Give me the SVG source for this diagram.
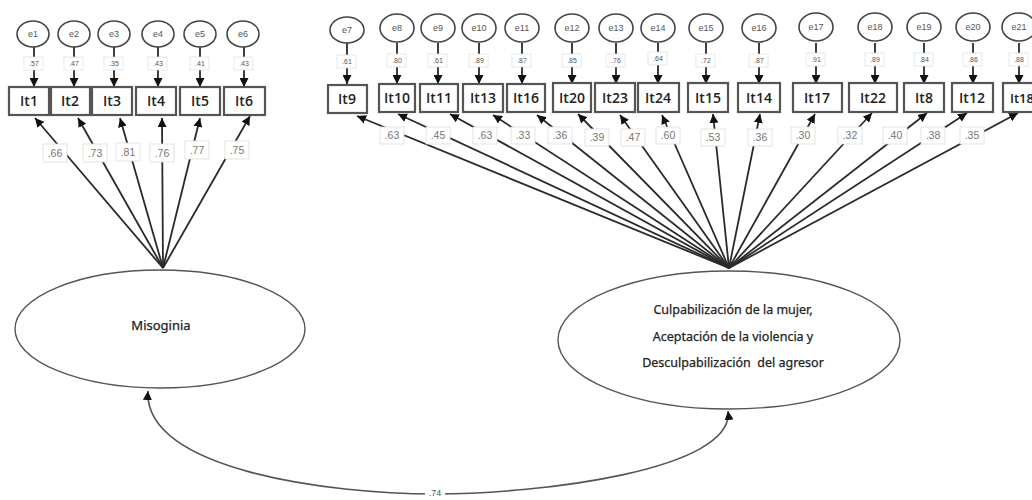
<svg xmlns="http://www.w3.org/2000/svg" width="1032" height="500" viewBox="0 0 1032 500">
  <defs>
    <marker id="arr" viewBox="0 0 10 10" refX="10" refY="5" markerWidth="9" markerHeight="9" markerUnits="userSpaceOnUse" orient="auto-start-reverse">
      <path d="M0,0 L10,5 L0,10 z" fill="#111"/>
    </marker>
    <style>
      .err { fill: #fff; stroke: #444; stroke-width: 1.6; }
      .err-t { font-family: "Liberation Sans", Arial, sans-serif; font-size: 9px; fill: #555; text-anchor: middle; }
      .item { fill: #fff; stroke: #555; stroke-width: 2.2; }
      .item-t { font-family: "Open Sans", "Noto Sans", sans-serif; font-size: 14px; font-weight: 600; fill: #222; text-anchor: middle; }
      .lat { fill: #fff; stroke: #555; stroke-width: 1.4; }
      .lat-t { font-family: "Noto Sans", "Open Sans", sans-serif; font-size: 12.5px; fill: #222; stroke: #222; stroke-width: 0.25; text-anchor: middle; }
      .ln { stroke: #2a2a2a; stroke-width: 1.8; fill: none; marker-end: url(#arr); }
      .arc { stroke: #555; stroke-width: 1.6; fill: none; marker-start: url(#arr); marker-end: url(#arr); }
      .lb { fill: #fff; stroke: #ddd; stroke-width: 0.8; }
      .lb-t { font-family: "Liberation Sans", Arial, sans-serif; font-size: 10.5px; fill: #777; text-anchor: middle; }
      .sl { fill: #fff; stroke: #ddd; stroke-width: 0.7; }
      .sl-t { font-family: "Liberation Sans", Arial, sans-serif; font-size: 7px; fill: #555; text-anchor: middle; }
    </style>
  </defs>

  <!-- paths: error terms, loadings, covariance -->
  <g id="connectors">
    <!-- error term arrows, left block -->
    <line class="ln" x1="34" y1="47" x2="34" y2="87"/>
    <line class="ln" x1="74" y1="47" x2="74" y2="87"/>
    <line class="ln" x1="114" y1="47" x2="114" y2="87"/>
    <line class="ln" x1="158" y1="47" x2="158" y2="87"/>
    <line class="ln" x1="200" y1="47" x2="200" y2="87"/>
    <line class="ln" x1="244" y1="47" x2="244" y2="87"/>
    <!-- error term arrows, right block -->
    <line class="ln" x1="347" y1="43" x2="347" y2="84"/>
    <line class="ln" x1="397" y1="43" x2="397" y2="84"/>
    <line class="ln" x1="438" y1="43" x2="438" y2="84"/>
    <line class="ln" x1="479" y1="43" x2="479" y2="84"/>
    <line class="ln" x1="522" y1="43" x2="522" y2="84"/>
    <line class="ln" x1="572" y1="43" x2="572" y2="84"/>
    <line class="ln" x1="616" y1="43" x2="616" y2="84"/>
    <line class="ln" x1="658" y1="43" x2="658" y2="84"/>
    <line class="ln" x1="706" y1="43" x2="706" y2="84"/>
    <line class="ln" x1="759" y1="43" x2="759" y2="84"/>
    <line class="ln" x1="816" y1="43" x2="816" y2="84"/>
    <line class="ln" x1="875" y1="43" x2="875" y2="84"/>
    <line class="ln" x1="924" y1="43" x2="924" y2="84"/>
    <line class="ln" x1="973" y1="43" x2="973" y2="84"/>
    <line class="ln" x1="1019" y1="43" x2="1019" y2="84"/>

    <!-- loadings from Misoginia -->
    <line class="ln" x1="163" y1="268" x2="35" y2="118"/>
    <line class="ln" x1="163" y1="268" x2="78" y2="118"/>
    <line class="ln" x1="163" y1="268" x2="120" y2="118"/>
    <line class="ln" x1="163" y1="268" x2="162" y2="118"/>
    <line class="ln" x1="163" y1="268" x2="200" y2="118"/>
    <line class="ln" x1="163" y1="268" x2="250" y2="116"/>

    <!-- loadings from the second factor -->
    <line class="ln" x1="729" y1="268" x2="357" y2="116"/>
    <line class="ln" x1="729" y1="268" x2="398" y2="114"/>
    <line class="ln" x1="729" y1="268" x2="450" y2="114"/>
    <line class="ln" x1="729" y1="268" x2="493" y2="115"/>
    <line class="ln" x1="729" y1="268" x2="537" y2="115"/>
    <line class="ln" x1="729" y1="268" x2="578" y2="114"/>
    <line class="ln" x1="729" y1="268" x2="620" y2="115"/>
    <line class="ln" x1="729" y1="268" x2="662" y2="115"/>
    <line class="ln" x1="729" y1="268" x2="713" y2="114"/>
    <line class="ln" x1="729" y1="268" x2="760" y2="114"/>
    <line class="ln" x1="729" y1="268" x2="815" y2="114"/>
    <line class="ln" x1="729" y1="268" x2="872" y2="113"/>
    <line class="ln" x1="729" y1="268" x2="927" y2="113"/>
    <line class="ln" x1="729" y1="268" x2="967" y2="113"/>
    <line class="ln" x1="729" y1="268" x2="1018" y2="113"/>

    <!-- factor covariance -->
    <path class="arc" d="M148,391 C143,470 330,494 435,494 C540,494 735,470 728,411"/>

    <!-- squared multiple correlations -->
    <g>
      <rect class="sl" x="24" y="57" width="19" height="13"/><text class="sl-t" x="34" y="66">.57</text>
      <rect class="sl" x="64" y="57" width="19" height="13"/><text class="sl-t" x="74" y="66">.47</text>
      <rect class="sl" x="104" y="57" width="19" height="13"/><text class="sl-t" x="114" y="66">.35</text>
      <rect class="sl" x="148" y="57" width="19" height="13"/><text class="sl-t" x="158" y="66">.43</text>
      <rect class="sl" x="190" y="57" width="19" height="13"/><text class="sl-t" x="200" y="66">.41</text>
      <rect class="sl" x="234" y="57" width="19" height="13"/><text class="sl-t" x="244" y="66">.43</text>

      <rect class="sl" x="337" y="55" width="19" height="13"/><text class="sl-t" x="347" y="64">.61</text>
      <rect class="sl" x="387" y="54" width="19" height="13"/><text class="sl-t" x="397" y="63">.80</text>
      <rect class="sl" x="428" y="54" width="19" height="13"/><text class="sl-t" x="438" y="63">.61</text>
      <rect class="sl" x="469" y="54" width="19" height="13"/><text class="sl-t" x="479" y="63">.89</text>
      <rect class="sl" x="512" y="54" width="19" height="13"/><text class="sl-t" x="522" y="63">.87</text>
      <rect class="sl" x="562" y="54" width="19" height="13"/><text class="sl-t" x="572" y="63">.85</text>
      <rect class="sl" x="606" y="54" width="19" height="13"/><text class="sl-t" x="616" y="63">.76</text>
      <rect class="sl" x="648" y="52" width="19" height="13"/><text class="sl-t" x="658" y="61">.64</text>
      <rect class="sl" x="696" y="54" width="19" height="13"/><text class="sl-t" x="706" y="63">.72</text>
      <rect class="sl" x="749" y="54" width="19" height="13"/><text class="sl-t" x="759" y="63">.87</text>
      <rect class="sl" x="806" y="53" width="19" height="13"/><text class="sl-t" x="816" y="62">.91</text>
      <rect class="sl" x="865" y="53" width="19" height="13"/><text class="sl-t" x="875" y="62">.89</text>
      <rect class="sl" x="914" y="53" width="19" height="13"/><text class="sl-t" x="924" y="62">.84</text>
      <rect class="sl" x="963" y="53" width="19" height="13"/><text class="sl-t" x="973" y="62">.86</text>
      <rect class="sl" x="1009" y="53" width="19" height="13"/><text class="sl-t" x="1019" y="62">.88</text>
    </g>

    <!-- standardized loadings -->
    <g>
      <rect class="lb" x="43" y="144" width="24" height="18"/><text class="lb-t" x="55" y="157">.66</text>
      <rect class="lb" x="83" y="144" width="24" height="18"/><text class="lb-t" x="95" y="157">.73</text>
      <rect class="lb" x="116" y="143" width="24" height="18"/><text class="lb-t" x="128" y="156">.81</text>
      <rect class="lb" x="150" y="144" width="24" height="18"/><text class="lb-t" x="162" y="157">.76</text>
      <rect class="lb" x="185" y="141" width="24" height="18"/><text class="lb-t" x="197" y="154">.77</text>
      <rect class="lb" x="225" y="141" width="24" height="18"/><text class="lb-t" x="237" y="154">.75</text>

      <rect class="lb" x="380" y="127" width="24" height="17"/><text class="lb-t" x="392" y="139">.63</text>
      <rect class="lb" x="426" y="127" width="24" height="17"/><text class="lb-t" x="438" y="139">.45</text>
      <rect class="lb" x="473" y="127" width="24" height="17"/><text class="lb-t" x="485" y="139">.63</text>
      <rect class="lb" x="511" y="127" width="24" height="17"/><text class="lb-t" x="523" y="139">.33</text>
      <rect class="lb" x="548" y="127" width="24" height="17"/><text class="lb-t" x="560" y="139">.36</text>
      <rect class="lb" x="585" y="129" width="24" height="17"/><text class="lb-t" x="597" y="141">.39</text>
      <rect class="lb" x="621" y="129" width="24" height="17"/><text class="lb-t" x="633" y="141">.47</text>
      <rect class="lb" x="656" y="127" width="24" height="17"/><text class="lb-t" x="668" y="139">.60</text>
      <rect class="lb" x="701" y="129" width="24" height="17"/><text class="lb-t" x="713" y="141">.53</text>
      <rect class="lb" x="748" y="129" width="24" height="17"/><text class="lb-t" x="760" y="141">.36</text>
      <rect class="lb" x="791" y="127" width="24" height="17"/><text class="lb-t" x="803" y="139">.30</text>
      <rect class="lb" x="838" y="127" width="24" height="17"/><text class="lb-t" x="850" y="139">.32</text>
      <rect class="lb" x="883" y="127" width="24" height="17"/><text class="lb-t" x="895" y="139">.40</text>
      <rect class="lb" x="921" y="127" width="24" height="17"/><text class="lb-t" x="933" y="139">.38</text>
      <rect class="lb" x="960" y="127" width="24" height="17"/><text class="lb-t" x="972" y="139">.35</text>
    </g>

    <rect x="425" y="486" width="20" height="12" fill="#fff"/>
    <text class="sl-t" x="435" y="496" style="font-size:9px">.74</text>
  </g>

  <!-- error terms -->
  <g id="e1"><ellipse class="err" cx="33" cy="34" rx="16" ry="13"/><text class="err-t" x="33" y="37">e1</text></g>
  <g id="e2"><ellipse class="err" cx="74" cy="34" rx="16" ry="13"/><text class="err-t" x="74" y="37">e2</text></g>
  <g id="e3"><ellipse class="err" cx="114" cy="34" rx="16" ry="13"/><text class="err-t" x="114" y="37">e3</text></g>
  <g id="e4"><ellipse class="err" cx="158" cy="34" rx="16" ry="13"/><text class="err-t" x="158" y="37">e4</text></g>
  <g id="e5"><ellipse class="err" cx="200" cy="34" rx="16" ry="13"/><text class="err-t" x="200" y="37">e5</text></g>
  <g id="e6"><ellipse class="err" cx="243" cy="34" rx="16" ry="13"/><text class="err-t" x="243" y="37">e6</text></g>

  <g id="e7"><ellipse class="err" cx="347" cy="30" rx="17" ry="13"/><text class="err-t" x="347" y="33">e7</text></g>
  <g id="e8"><ellipse class="err" cx="397" cy="28" rx="17" ry="14"/><text class="err-t" x="397" y="31">e8</text></g>
  <g id="e9"><ellipse class="err" cx="438" cy="28" rx="17" ry="14"/><text class="err-t" x="438" y="31">e9</text></g>
  <g id="e10"><ellipse class="err" cx="479" cy="28" rx="17" ry="14"/><text class="err-t" x="479" y="31">e10</text></g>
  <g id="e11"><ellipse class="err" cx="522" cy="28" rx="17" ry="14"/><text class="err-t" x="522" y="31">e11</text></g>
  <g id="e12"><ellipse class="err" cx="572" cy="28" rx="17" ry="14"/><text class="err-t" x="572" y="31">e12</text></g>
  <g id="e13"><ellipse class="err" cx="616" cy="28" rx="17" ry="14"/><text class="err-t" x="616" y="31">e13</text></g>
  <g id="e14"><ellipse class="err" cx="658" cy="28" rx="17" ry="14"/><text class="err-t" x="658" y="31">e14</text></g>
  <g id="e15"><ellipse class="err" cx="706" cy="28" rx="17" ry="14"/><text class="err-t" x="706" y="31">e15</text></g>
  <g id="e16"><ellipse class="err" cx="759" cy="28" rx="17" ry="14"/><text class="err-t" x="759" y="31">e16</text></g>
  <g id="e17"><ellipse class="err" cx="816" cy="27" rx="17" ry="14"/><text class="err-t" x="816" y="30">e17</text></g>
  <g id="e18"><ellipse class="err" cx="875" cy="27" rx="17" ry="14"/><text class="err-t" x="875" y="30">e18</text></g>
  <g id="e19"><ellipse class="err" cx="924" cy="27" rx="17" ry="14"/><text class="err-t" x="924" y="30">e19</text></g>
  <g id="e20"><ellipse class="err" cx="973" cy="27" rx="17" ry="14"/><text class="err-t" x="973" y="30">e20</text></g>
  <g id="e21"><ellipse class="err" cx="1019" cy="27" rx="17" ry="14"/><text class="err-t" x="1019" y="30">e21</text></g>

  <!-- observed items -->
  <g id="It1"><rect class="item" x="9" y="87" width="40" height="28"/><text class="item-t" x="29" y="106">It1</text></g>
  <g id="It2"><rect class="item" x="51" y="87" width="39" height="28"/><text class="item-t" x="70" y="106">It2</text></g>
  <g id="It3"><rect class="item" x="92" y="87" width="40" height="28"/><text class="item-t" x="112" y="106">It3</text></g>
  <g id="It4"><rect class="item" x="136" y="87" width="40" height="28"/><text class="item-t" x="156" y="106">It4</text></g>
  <g id="It5"><rect class="item" x="180" y="87" width="40" height="28"/><text class="item-t" x="200" y="106">It5</text></g>
  <g id="It6"><rect class="item" x="224" y="87" width="41" height="28"/><text class="item-t" x="244" y="106">It6</text></g>

  <g id="It9"><rect class="item" x="328" y="85" width="39" height="28"/><text class="item-t" x="347" y="104">It9</text></g>
  <g id="It10"><rect class="item" x="379" y="84" width="36" height="28"/><text class="item-t" x="397" y="103">It10</text></g>
  <g id="It11"><rect class="item" x="420" y="84" width="38" height="28"/><text class="item-t" x="439" y="103">It11</text></g>
  <g id="It13"><rect class="item" x="463" y="84" width="40" height="28"/><text class="item-t" x="483" y="103">It13</text></g>
  <g id="It16"><rect class="item" x="507" y="84" width="38" height="28"/><text class="item-t" x="526" y="103">It16</text></g>
  <g id="It20"><rect class="item" x="553" y="83" width="38" height="29"/><text class="item-t" x="572" y="103">It20</text></g>
  <g id="It23"><rect class="item" x="595" y="83" width="40" height="29"/><text class="item-t" x="615" y="103">It23</text></g>
  <g id="It24"><rect class="item" x="638" y="83" width="41" height="29"/><text class="item-t" x="658" y="103">It24</text></g>
  <g id="It15"><rect class="item" x="688" y="83" width="40" height="29"/><text class="item-t" x="708" y="103">It15</text></g>
  <g id="It14"><rect class="item" x="738" y="83" width="42" height="29"/><text class="item-t" x="759" y="103">It14</text></g>
  <g id="It17"><rect class="item" x="793" y="83" width="49" height="29"/><text class="item-t" x="817" y="103">It17</text></g>
  <g id="It22"><rect class="item" x="849" y="83" width="48" height="29"/><text class="item-t" x="873" y="103">It22</text></g>
  <g id="It8"><rect class="item" x="904" y="83" width="40" height="29"/><text class="item-t" x="924" y="103">It8</text></g>
  <g id="It12"><rect class="item" x="952" y="83" width="41" height="29"/><text class="item-t" x="972" y="103">It12</text></g>
  <g id="It18"><rect class="item" x="1003" y="83" width="40" height="29"/><text class="item-t" x="1022" y="103" style="font-size:13px">It18</text></g>

  <!-- latent factors -->
  <g id="misoginia">
    <ellipse class="lat" cx="160" cy="329" rx="145" ry="59"/>
    <text class="lat-t" x="161" y="330" style="font-size:13px">Misoginia</text>
  </g>
  <g id="culpabilizacion">
    <ellipse class="lat" cx="729" cy="340" rx="171" ry="69"/>
    <text class="lat-t" x="733" y="314">Culpabilización de la mujer,</text>
    <text class="lat-t" x="733" y="341">Aceptación de la violencia y</text>
    <text class="lat-t" x="733" y="367" xml:space="preserve">Desculpabilización  del agresor</text>
  </g>
</svg>
